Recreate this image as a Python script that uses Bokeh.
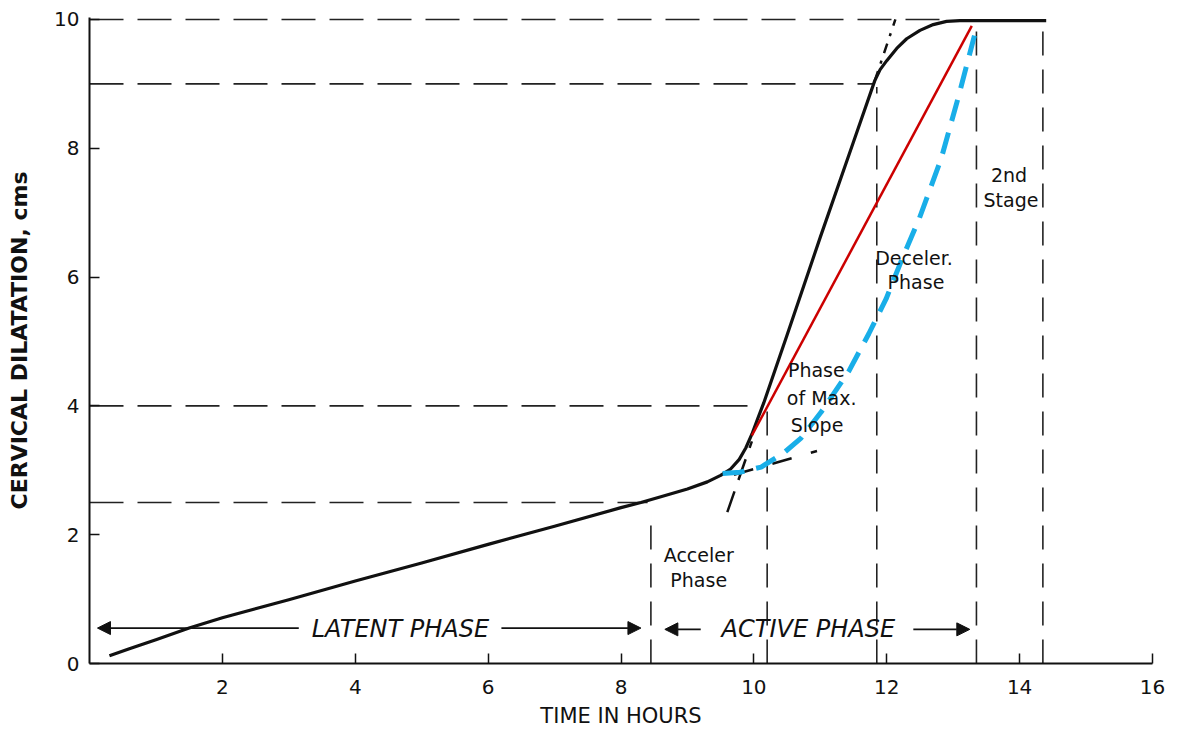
from bokeh.plotting import figure
from bokeh.models import Range1d, FixedTicker, Arrow, NormalHead, ColumnDataSource
from bokeh.core.properties import value
from bokeh.embed import file_html
from bokeh.resources import INLINE

# ---- data ----
x_ticks = [2, 4, 6, 8, 10, 12, 14, 16]
y_ticks = [0, 2, 4, 6, 8, 10]

curve_x = [0.3, 0.6, 1.0, 1.5, 2.0, 3.0, 4.0, 5.0, 6.0, 7.0, 8.0, 8.3, 8.6, 9.0, 9.3, 9.5,
           9.65, 9.78, 9.88, 9.97, 10.05, 10.15, 10.5, 11.0, 11.5, 11.82, 11.9, 12.0, 12.15,
           12.3, 12.5, 12.7, 12.9, 13.1, 14.4]
curve_y = [0.12, 0.23, 0.37, 0.55, 0.71, 0.99, 1.28, 1.56, 1.85, 2.13, 2.42, 2.50, 2.59, 2.71,
           2.82, 2.92, 3.02, 3.17, 3.35, 3.56, 3.78, 4.05, 5.10, 6.62, 8.10, 9.05, 9.22, 9.36,
           9.55, 9.70, 9.83, 9.92, 9.97, 9.98, 9.98]

red_x = [9.97, 13.28]
red_y = [3.54, 9.90]

blue_x = [9.53, 9.79, 10.11, 10.45, 10.71, 11.01, 11.43, 11.73, 11.99, 12.23, 12.49, 12.82, 13.09, 13.32]
blue_y = [2.95, 2.97, 3.05, 3.27, 3.50, 3.90, 4.54, 5.12, 5.66, 6.28, 6.91, 7.84, 8.84, 9.75]

latent_tangent_x = [9.7, 10.95]
latent_tangent_y = [2.93, 3.30]
slope_low_x = [9.6, 9.97]
slope_low_y = [2.35, 3.45]
slope_top_x = [11.82, 12.13]
slope_top_y = [9.05, 10.0]

hline_y = [10, 9, 4, 2.5]
hline_xend = [12.85, 11.82, 10.15, 8.4]
vline_x = [8.45, 10.2, 11.85, 13.35, 14.35]
vline_ytop = [2.35, 3.95, 8.95, 9.95, 9.95]

phase_labels = ["Acceler", "Phase", "Phase", "of Max.", "Slope", "Deceler.", "Phase", "2nd", "Stage"]
phase_x = [9.17, 9.17, 10.94, 11.02, 10.95, 12.41, 12.44, 13.84, 13.87]
phase_y = [1.68, 1.29, 4.55, 4.13, 3.71, 6.30, 5.92, 7.58, 7.19]

span_labels = ["LATENT PHASE", "ACTIVE PHASE"]
span_label_x = [4.68, 10.82]
span_label_y = [0.53, 0.53]
arrow_x_start = [3.15, 6.2, 9.2, 12.4]
arrow_x_end = [0.12, 8.3, 8.66, 13.25]
arrow_y = [0.55, 0.55, 0.53, 0.53]

# ---- figure ----
p = figure(width=1172, height=736, x_range=Range1d(0, 16), y_range=Range1d(0, 10.03),
           output_backend="svg", toolbar_location=None,
           min_border_left=89, min_border_right=20, min_border_top=17, min_border_bottom=73)
p.grid.visible = False
p.outline_line_color = None
p.background_fill_color = "white"
p.border_fill_color = "white"

for ax in (p.xaxis[0], p.yaxis[0]):
    ax.axis_line_width = 2
    ax.axis_line_color = "#111111"
    ax.major_tick_in = 10
    ax.major_tick_out = 0
    ax.major_tick_line_width = 1.5
    ax.major_tick_line_color = "#111111"
    ax.minor_tick_line_color = None
    ax.major_label_text_font = "DejaVu Sans"
    ax.major_label_text_font_size = "20px"
    ax.major_label_text_color = "#111111"
    ax.axis_label_text_font = "DejaVu Sans"
    ax.axis_label_text_font_style = "normal"
    ax.axis_label_text_color = "#111111"

p.xaxis.ticker = FixedTicker(ticks=x_ticks)
p.yaxis.ticker = FixedTicker(ticks=y_ticks)
p.xaxis.major_label_standoff = 16
p.yaxis.major_label_standoff = 10
p.xaxis.axis_label = "TIME IN HOURS"
p.xaxis.axis_label_text_font_size = "21px"
p.xaxis.axis_label_standoff = 7
p.yaxis.axis_label = "CERVICAL DILATATION, cms"
p.yaxis.axis_label_text_font_size = "22px"
p.yaxis.axis_label_text_font_style = "bold"
p.yaxis.axis_label_standoff = 19

# reference dashed lines
for y, xe in zip(hline_y, hline_xend):
    p.line([0, xe], [y, y], line_color="#222222", line_width=1.6, line_dash="34 14")
for x, yt in zip(vline_x, vline_ytop):
    p.line([x, x], [0, yt], line_color="#222222", line_width=1.6, line_dash="24 14")

# tangent lines
p.line(latent_tangent_x, latent_tangent_y, line_color="#111111", line_width=2.5, line_dash="20 20")
p.line(slope_low_x, slope_low_y, line_color="#111111", line_width=2.5, line_dash="22 12")
p.line(slope_top_x, slope_top_y, line_color="#111111", line_width=2.5, line_dash="10 8 3 8")

# main curve
p.line(curve_x, curve_y, line_color="#111111", line_width=3.2, line_join="round")

# red line
p.line(red_x, red_y, line_color="#cc0000", line_width=2.5)

# blue dashed
p.line(blue_x, blue_y, line_color="#19aee8", line_width=5, line_dash="22 12")

# labels
src = ColumnDataSource(dict(x=phase_x, y=phase_y, t=phase_labels))
p.text(x="x", y="y", text="t", source=src, text_align="center", text_baseline="middle",
       text_font=value("DejaVu Sans"), text_font_size="19px", text_color="#111111")

src2 = ColumnDataSource(dict(x=span_label_x, y=span_label_y, t=span_labels))
p.text(x="x", y="y", text="t", source=src2, text_align="center", text_baseline="middle",
       text_font=value("DejaVu Sans"), text_font_size="24px", text_font_style="italic",
       text_color="#111111")

for xs, xe, y in zip(arrow_x_start, arrow_x_end, arrow_y):
    p.add_layout(Arrow(end=NormalHead(size=13, fill_color="#111111", line_color="#111111"),
                       x_start=xs, y_start=y, x_end=xe, y_end=y,
                       line_color="#111111", line_width=1.6))

open("out.html", "w").write(file_html(p, INLINE))
